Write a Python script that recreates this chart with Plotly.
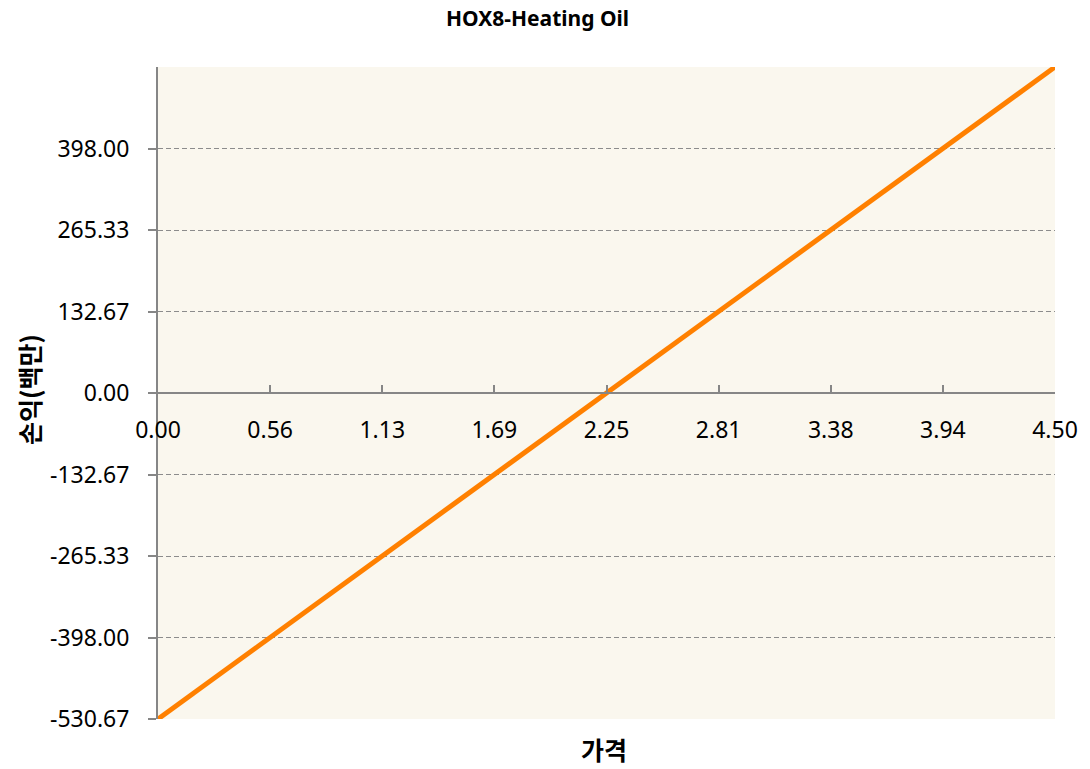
import plotly.graph_objects as go

price = [0.0, 4.5]
pnl = [-530.67, 530.67]
x_ticks = [0.0, 0.5625, 1.125, 1.6875, 2.25, 2.8125, 3.375, 3.9375, 4.5]
x_labels = ["0.00", "0.56", "1.13", "1.69", "2.25", "2.81", "3.38", "3.94", "4.50"]
y_ticks = [-530.67, -398.0, -265.33, -132.67, 0.0, 132.67, 265.33, 398.0]
y_labels = ["-530.67", "-398.00", "-265.33", "-132.67", "0.00", "132.67", "265.33", "398.00"]

font_fam = "Noto Sans, Noto Sans CJK KR, sans-serif"
kr_fam = "Noto Sans CJK KR, Noto Sans, sans-serif"
axis_gray = "#868686"

fig = go.Figure()
fig.add_trace(go.Scatter(x=price, y=pnl, mode="lines",
                         line=dict(color="#FF8000", width=5), showlegend=False))

fig.update_layout(
    width=1090, height=769,
    margin=dict(l=158, r=28, t=67, b=50),
    paper_bgcolor="white",
    plot_bgcolor="#FAF7EE",
    font=dict(family=font_fam, color="black"),
    title=dict(text="<b>HOX8-Heating Oil</b>", x=0.4931, xanchor="center",
               y=0.9753, yanchor="middle", font=dict(size=21, family=font_fam)),
    xaxis=dict(range=[0, 4.5], tickvals=x_ticks, ticktext=x_labels,
               anchor="free", position=0.5, side="bottom",
               showline=True, linecolor=axis_gray, linewidth=2,
               ticks="inside", ticklen=7, tickcolor=axis_gray, tickwidth=2,
               ticklabelstandoff=16,
               showgrid=False, zeroline=False,
               tickfont=dict(size=23, family=font_fam)),
    yaxis=dict(range=[-530.67, 530.67], tickvals=y_ticks, ticktext=y_labels,
               showline=True, linecolor=axis_gray, linewidth=2,
               ticks="outside", ticklen=8, tickcolor=axis_gray, tickwidth=2,
               ticklabelstandoff=14,
               showgrid=True, gridcolor="#8C8C8C", griddash="5px,3px", gridwidth=1,
               zeroline=False,
               tickfont=dict(size=23, family=font_fam)),
    annotations=[
        dict(text="<b>가격</b>", x=0.497, xref="paper", y=-0.046, yref="paper",
             xanchor="center", yanchor="middle", showarrow=False,
             font=dict(size=25, family=kr_fam)),
        dict(text="<b>손익(백만)</b>", x=-0.144, xref="paper", y=0.506, yref="paper",
             xanchor="center", yanchor="middle", showarrow=False, textangle=-90,
             font=dict(size=25, family=kr_fam)),
    ],
)

fig.write_html("out.html", config={"displayModeBar": False},
               post_script="document.body.style.margin='0px';")
